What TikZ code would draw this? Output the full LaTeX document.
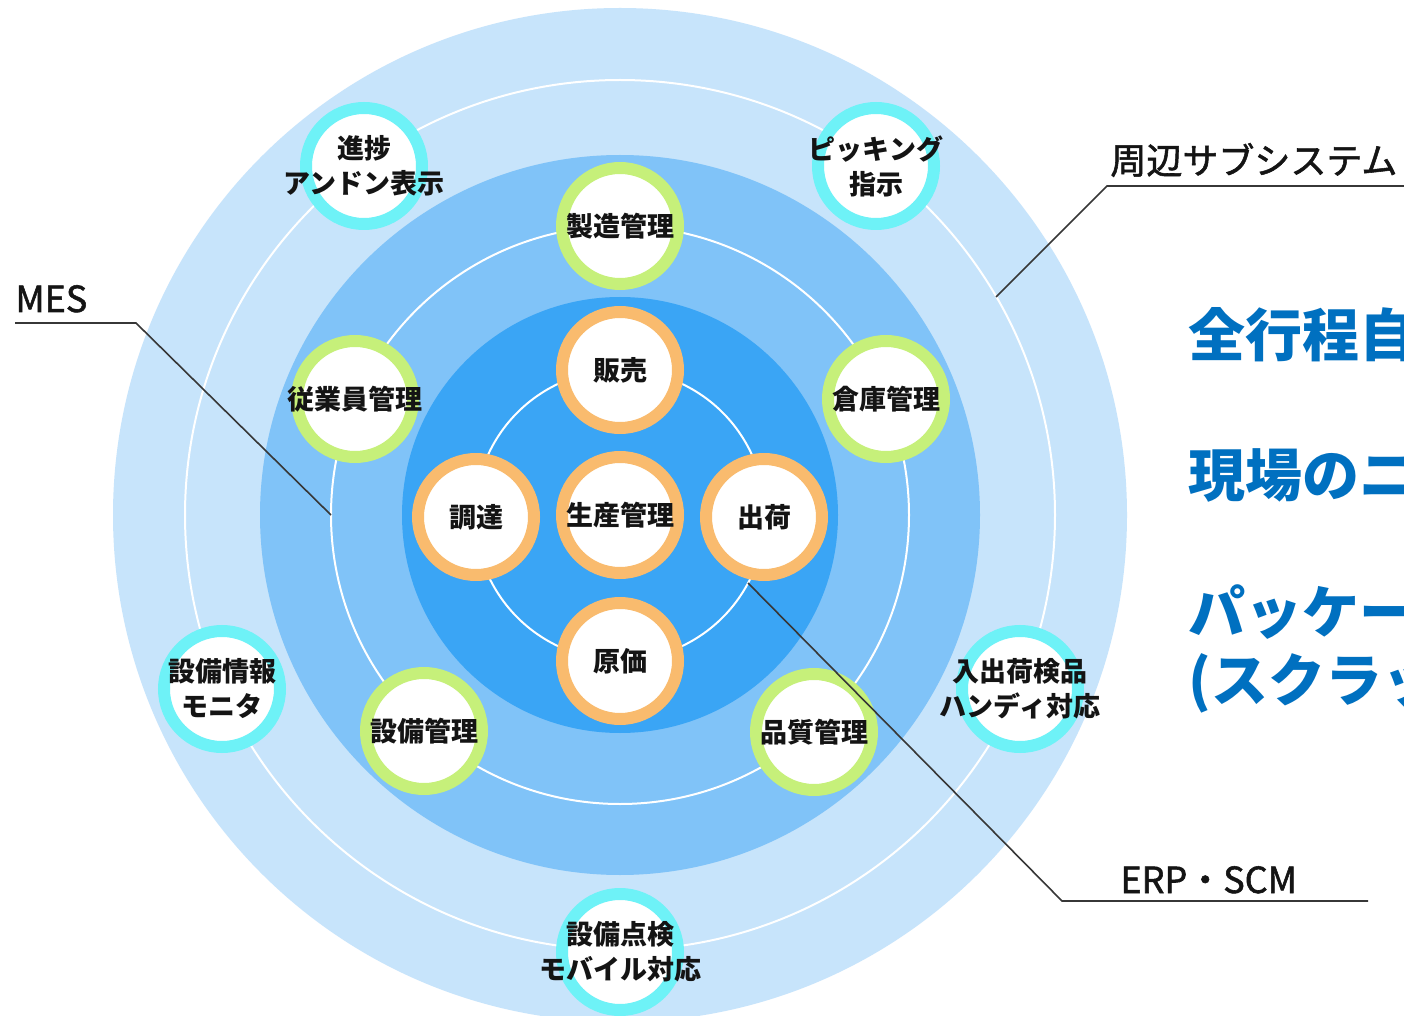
\documentclass[tikz,border=0pt]{standalone}
\usepackage{fontspec}
\setmainfont{Noto Sans CJK JP}
\newfontfamily\jptag{Noto Sans CJK JP}[FakeBold=1.5]
\usetikzlibrary{shadows}
\definecolor{bandA}{HTML}{C7E4FB}
\definecolor{bandB}{HTML}{80C3F8}
\definecolor{bandC}{HTML}{3AA5F5}
\definecolor{ringO}{HTML}{F9BB6E}
\definecolor{ringG}{HTML}{C6F07A}
\definecolor{ringC}{HTML}{6EF2F7}
\definecolor{txtblue}{HTML}{0070C0}
\definecolor{ink}{HTML}{141414}
\tikzset{
  wring/.style={draw=white, line width=1pt},
  bubble/.style={circle, fill=white, line width=6pt, minimum size=58pt, inner sep=0pt,
    drop shadow={opacity=0.22, shadow xshift=1pt, shadow yshift=-1.5pt}},
  core/.style={bubble, draw=ringO},
  mesnode/.style={bubble, draw=ringG},
  subnode/.style={bubble, draw=ringC},
  lbl/.style={font=\bfseries\fontsize{13.5pt}{17.5pt}\selectfont, text=ink, align=center, inner sep=0pt},
  tag/.style={font=\jptag\fontsize{18pt}{22pt}\selectfont, text=ink, inner sep=0pt},
  headline/.style={font=\bfseries\fontsize{28.5pt}{32pt}\selectfont, text=txtblue, inner sep=0pt, anchor=west},
  leader/.style={draw=ink!85, line width=0.8pt},
}
\begin{document}
\begin{tikzpicture}[x=0.5pt,y=-0.5pt]
\useasboundingbox (0,0) rectangle (1404,1016);
\clip (0,0) rectangle (1404,1016);
\fill[white] (0,0) rectangle (1404,1016);
\coordinate (C) at (620,515);
% bands
\fill[bandA] (C) circle[radius=507];
\fill[bandB] (C) circle[radius=360];
\fill[bandC] (C) circle[radius=218];
\draw[wring] (C) circle[radius=435];
\draw[wring] (C) circle[radius=289];
\draw[wring] (C) circle[radius=145];
% outer ring: peripheral subsystems
\node[subnode, label={[lbl]center:進捗\\アンドン表示}] (shincho) at (364,166) {};
\node[subnode, label={[lbl]center:ピッキング\\指示}] (picking) at (876,166) {};
\node[subnode, label={[lbl]center:設備情報\\モニタ}] (setsubijoho) at (222,689) {};
\node[subnode, label={[lbl]center:入出荷検品\\ハンディ対応}] (nyushukka) at (1020,689) {};
\node[subnode, label={[lbl]center:設備点検\\モバイル対応}] (tenken) at (620,952) {};
% middle ring: MES
\node[mesnode, label={[lbl]center:製造管理}] (seizo) at (620,226) {};
\node[mesnode, label={[lbl]center:従業員管理}] (jugyoin) at (355,399) {};
\node[mesnode, label={[lbl]center:倉庫管理}] (soko) at (886,399) {};
\node[mesnode, label={[lbl]center:設備管理}] (setsubi) at (424,731) {};
\node[mesnode, label={[lbl]center:品質管理}] (hinshitsu) at (814,732) {};
% core: ERP / SCM
\node[core, label={[lbl]center:販売}] (hanbai) at (620,370) {};
\node[core, label={[lbl]center:調達}] (chotatsu) at (476,517) {};
\node[core, label={[lbl]center:生産管理}] (seisan) at (620,515) {};
\node[core, label={[lbl]center:出荷}] (shukka) at (764,517) {};
\node[core, label={[lbl]center:原価}] (genka) at (620,661) {};
% leader labels
\node[tag, anchor=base west] (mesT) at (15,312) {MES};
\coordinate (mesU) at (15,323);
\coordinate (mesK) at (136,323);
\coordinate (mesEnd) at (331,515);
\draw[leader] (mesU) -- (mesK) -- (mesEnd);

\node[tag, anchor=west] (shuhenT) at (1110,160) {周辺サブシステム};
\coordinate (shuEnd) at (996,297);
\coordinate (shuK) at (1107,186);
\coordinate (shuU) at (1404,186);
\draw[leader] (shuEnd) -- (shuK) -- (shuU);

\node[tag, anchor=base west] (erpT) at (1120,893) {ERP・SCM};
\coordinate (erpEnd) at (748,583);
\coordinate (erpK) at (1062,901);
\coordinate (erpU) at (1368,901);
\draw[leader] (erpEnd) -- (erpK) -- (erpU);
% headlines (cut off at the right edge, as in the reference)
\node[headline] (h1) at (1188,335) {全行程自};
\node[headline] (h2) at (1188,475) {現場のニ};
\node[headline] (h3) at (1188,612) {パッケージ};
\node[headline] (h4) at (1188,683) {(スクラッチ};
\end{tikzpicture}
\end{document}
